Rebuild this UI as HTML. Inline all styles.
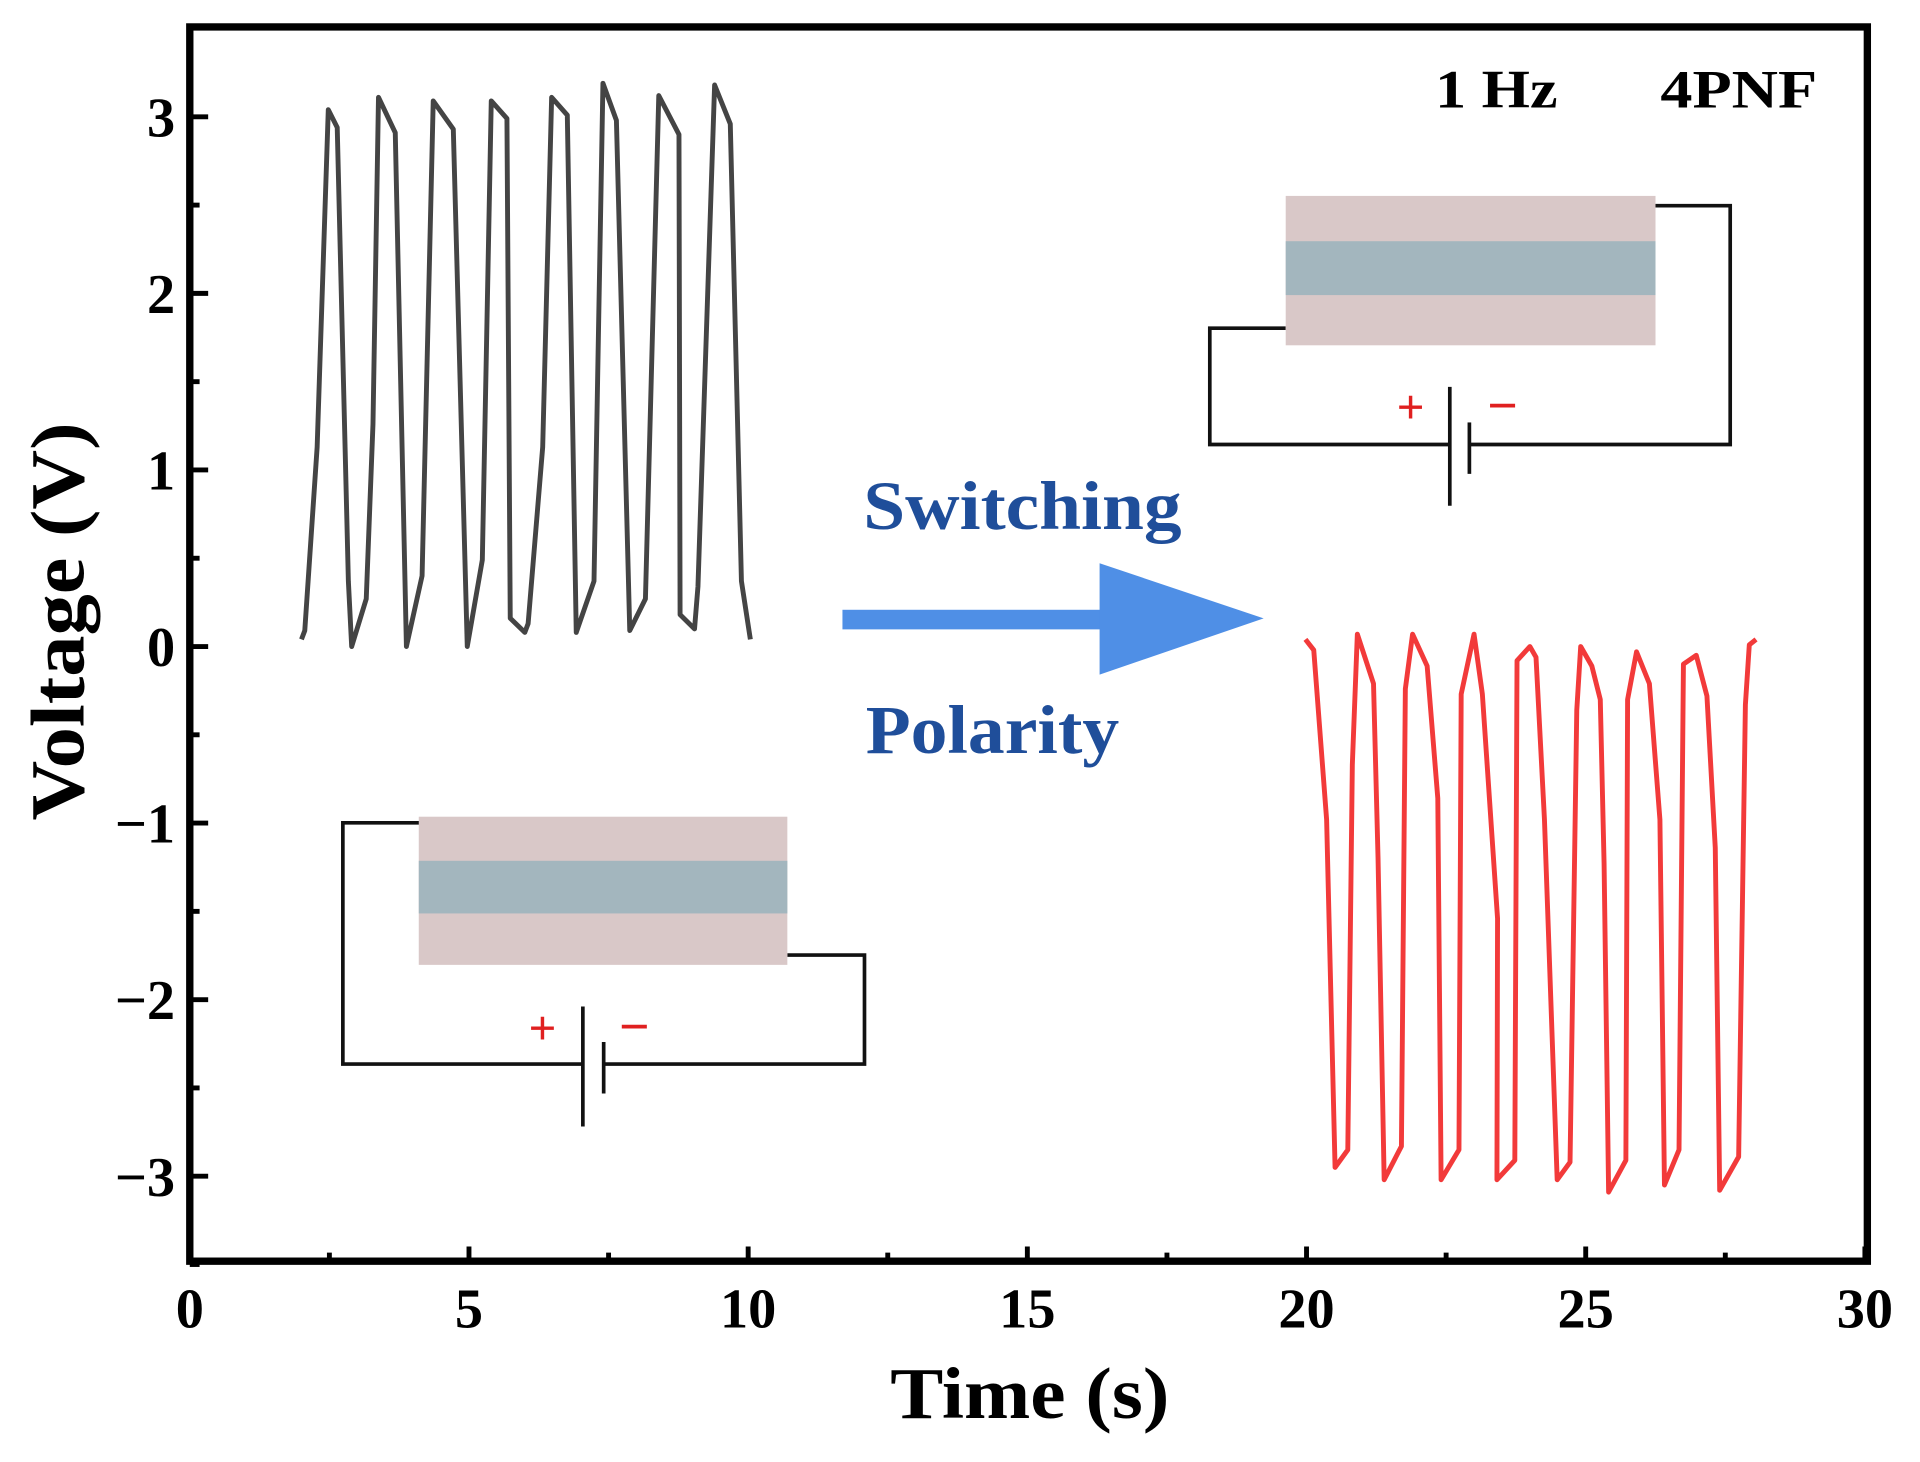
<!DOCTYPE html>
<html><head><meta charset="utf-8"><style>
html,body{margin:0;padding:0;background:#fff;}
svg{display:block;}
text{font-family:"Liberation Serif",serif;font-weight:bold;}
</style></head><body>
<svg id="chart" width="1920" height="1462" viewBox="0 0 1568 1194" preserveAspectRatio="none" xmlns="http://www.w3.org/2000/svg">
<g id="marks"></g>
<g id="axes"></g>
<text x="727" y="1158" font-size="60" textLength="228" lengthAdjust="spacingAndGlyphs">Time (s)</text>
<text transform="translate(68,670) rotate(-90)" font-size="62" textLength="325" lengthAdjust="spacingAndGlyphs">Voltage (V)</text>
<text x="1172" y="88" font-size="44" textLength="100" lengthAdjust="spacingAndGlyphs">1 Hz</text>
<text x="1356" y="88" font-size="44" textLength="128" lengthAdjust="spacingAndGlyphs">4PNF</text>
<g>
<rect x="688" y="498" width="214" height="16" fill="#4f8fe6"/>
<polygon points="898,460 1032,505 898,551" fill="#4f8fe6"/>
</g>
<text x="705" y="432" font-size="56" fill="#1f4e9a" textLength="260" lengthAdjust="spacingAndGlyphs">Switching</text>
<text x="707" y="615" font-size="56" fill="#1f4e9a" textLength="207" lengthAdjust="spacingAndGlyphs">Polarity</text>
<g stroke="#111" stroke-width="3" fill="none">
<polyline points="1350,168 1413,168 1413,363 1200,363"/>
<polyline points="1184,363 988,363 988,268 1050,268"/>
<line x1="1184" y1="316" x2="1184" y2="413"/>
<line x1="1200" y1="345" x2="1200" y2="387"/>
</g>
<rect x="1050" y="160" width="302" height="122" fill="#d9c8c8"/>
<rect x="1050" y="197" width="302" height="44" fill="#a3b6be"/>
<text x="1152" y="346" font-size="40" fill="#e02020" text-anchor="middle">+</text>
<text x="1227" y="346" font-size="44" fill="#e02020" text-anchor="middle">−</text>
<g stroke="#111" stroke-width="3" fill="none">
<polyline points="343,672 280,672 280,869 476,869"/>
<polyline points="493,869 706,869 706,780 643,780"/>
<line x1="476" y1="822" x2="476" y2="920"/>
<line x1="493" y1="851" x2="493" y2="893"/>
</g>
<rect x="342" y="667" width="301" height="121" fill="#d9c8c8"/>
<rect x="342" y="703" width="301" height="43" fill="#a3b6be"/>
<text x="443" y="853" font-size="40" fill="#e02020" text-anchor="middle">+</text>
<text x="518" y="853" font-size="44" fill="#e02020" text-anchor="middle">−</text>
</svg>
<script>
const xTicks=[0,5,10,15,20,25,30];
const xTickLabels=["0","5","10","15","20","25","30"];
const yTicks=[-3,-2,-1,0,1,2,3];
const yTickLabels=["−3","−2","−1","0","1","2","3"];
const blackT=[2.00,2.06,2.28,2.48,2.64,2.84,2.90,3.16,3.28,3.38,3.68,3.88,4.16,4.36,4.72,4.97,5.24,5.40,5.68,5.74,6.00,6.06,6.32,6.48,6.76,6.92,7.24,7.40,7.64,7.88,8.16,8.40,8.76,8.78,9.04,9.10,9.40,9.68,9.88,10.04];
const blackV=[0.04,0.09,1.13,3.04,2.94,0.37,0.00,0.27,1.26,3.11,2.91,0.00,0.40,3.09,2.93,0.00,0.49,3.09,2.99,0.16,0.08,0.13,1.13,3.11,3.01,0.08,0.37,3.19,2.98,0.09,0.27,3.12,2.90,0.18,0.10,0.34,3.18,2.96,0.37,0.04];
const redT=[19.98,20.13,20.36,20.51,20.74,20.82,20.91,21.20,21.28,21.39,21.70,21.77,21.90,22.16,22.35,22.41,22.73,22.77,23.00,23.15,23.42,23.41,23.73,23.77,24.00,24.11,24.26,24.49,24.72,24.84,24.91,25.11,25.26,25.33,25.41,25.72,25.75,25.91,26.14,26.33,26.41,26.67,26.75,26.98,27.17,27.32,27.40,27.74,27.86,27.93,28.05];
const redV=[0.04,-0.02,-0.98,-2.95,-2.85,-0.67,0.07,-0.21,-1.20,-3.02,-2.83,-0.24,0.07,-0.11,-0.86,-3.02,-2.85,-0.27,0.07,-0.27,-1.54,-3.02,-2.91,-0.08,0.00,-0.06,-0.98,-3.02,-2.92,-0.36,0.00,-0.11,-0.30,-1.23,-3.09,-2.91,-0.30,-0.03,-0.21,-0.98,-3.05,-2.85,-0.10,-0.05,-0.28,-1.14,-3.08,-2.89,-0.33,0.01,0.04];
const NS='http://www.w3.org/2000/svg';
const X0=155,X1=1523,Y0=528,YU=144.2;
function sx(t){return X0+(X1-X0)*t/30;}
function sy(v){return Y0-YU*v;}
const marks=document.getElementById('marks'),axes=document.getElementById('axes');
function mk(tag,attrs,parent){const e=document.createElementNS(NS,tag);for(const k in attrs)e.setAttribute(k,attrs[k]);parent.appendChild(e);return e;}
function series(T,V,color,name){
  const p=mk('polyline',{points:T.map((t,i)=>sx(t).toFixed(1)+','+sy(V[i]).toFixed(1)).join(' '),fill:'none',stroke:color,'stroke-width':4,'stroke-linejoin':'round'},marks);
  
  
}
series(blackT,blackV,'#444','original-polarity-series');
series(redT,redV,'#f23a3a','switched-polarity-series');
const frame=mk('rect',{x:155,y:22,width:1370,height:1008,fill:'none',stroke:'#000','stroke-width':6},axes);


xTicks.forEach((t,i)=>{
  const l=mk('line',{x1:sx(t),x2:sx(t),y1:1030,y2:1018,stroke:'#000','stroke-width':4},axes);
  
  
  if(i<xTicks.length-1){const m=mk('line',{x1:sx(t+2.5),x2:sx(t+2.5),y1:1030,y2:1023,stroke:'#000','stroke-width':4},axes);
  
  }
  const tx=mk('text',{x:sx(t),y:1084,'font-size':46,'text-anchor':'middle'},axes);
  tx.textContent=xTickLabels[i];
  
  
});
yTicks.forEach((v,i)=>{
  const l=mk('line',{x1:155,x2:170,y1:sy(v),y2:sy(v),stroke:'#000','stroke-width':4},axes);
  
  
  [v-0.5,v+0.5].forEach(mv=>{if(mv>-3.6&&mv<3.4&&(mv>v||i===0)){const m=mk('line',{x1:155,x2:163,y1:sy(mv),y2:sy(mv),stroke:'#000','stroke-width':4},axes);
  
  }});
  const tx=mk('text',{x:143,y:sy(v)+16,'font-size':46,'text-anchor':'end'},axes);
  tx.textContent=yTickLabels[i];
  
  
});
</script>
</body></html>
